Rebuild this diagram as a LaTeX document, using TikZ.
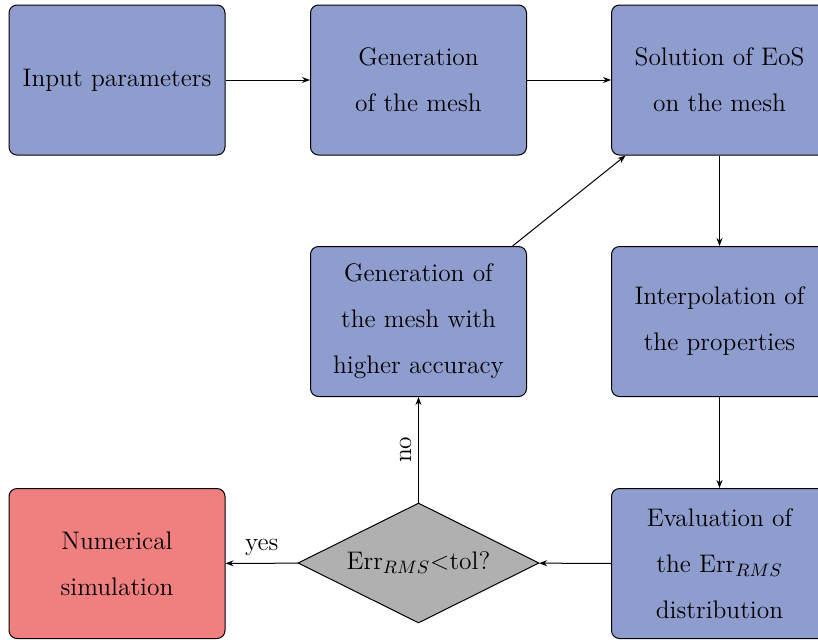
\documentclass[tikz,border=0pt]{standalone}
\usetikzlibrary{shapes.geometric,arrows.meta}
\definecolor{boxblue}{RGB}{143,157,206}
\definecolor{boxred}{RGB}{240,128,128}
\definecolor{diagray}{RGB}{176,176,176}
\begin{document}
\begin{tikzpicture}[x=0.5pt,y=-0.5pt,
  stepbox/.style={draw=black, line width=0.5pt, fill=boxblue, rounded corners=4pt,
    minimum width=108pt, minimum height=75pt, align=center,
    font=\fontsize{12.7pt}{23pt}\selectfont},
  endbox/.style={stepbox, fill=boxred},
  decide/.style={draw=black, line width=0.5pt, fill=diagray, diamond, aspect=2, inner sep=0pt,
    minimum width=120.5pt, minimum height=60pt, font=\fontsize{12.7pt}{23pt}\selectfont},
  conn/.style={draw=black, line width=0.5pt, -{Stealth[length=4pt,width=3pt]}},
  lbl/.style={font=\fontsize{12.7pt}{15pt}\selectfont}
]
\useasboundingbox (0,0) rectangle (818,643);
\node[stepbox] (inp) at (117,80) {Input parameters};
\node[stepbox] (gen) at (418.5,80) {Generation\\of the mesh};
\node[stepbox] (sol) at (719.5,80) {Solution of EoS\\on the mesh};
\node[stepbox] (gen2) at (418.5,321.5) {Generation of\\the mesh with\\higher accuracy};
\node[stepbox] (interp) at (719.5,321.5) {Interpolation of\\the properties};
\node[endbox] (num) at (117,563.5) {Numerical\\simulation};
\node[decide] (dec) at (418.5,563) {Err$_{RMS}$<tol?};
\node[stepbox] (eval) at (719.5,563.5) {Evaluation of\\the Err$_{RMS}$\\distribution};
\draw[conn] (inp) -- (gen);
\draw[conn] (gen) -- (sol);
\draw[conn] (sol) -- (interp);
\draw[conn] (interp) -- (eval);
\draw[conn] (eval) -- (dec);
\draw[conn] (dec) -- node[lbl, above] {yes} (num);
\draw[conn] (dec) -- node[lbl, rotate=90, anchor=south] {no} (gen2);
\draw[conn] (gen2) -- (sol);
\end{tikzpicture}
\end{document}
